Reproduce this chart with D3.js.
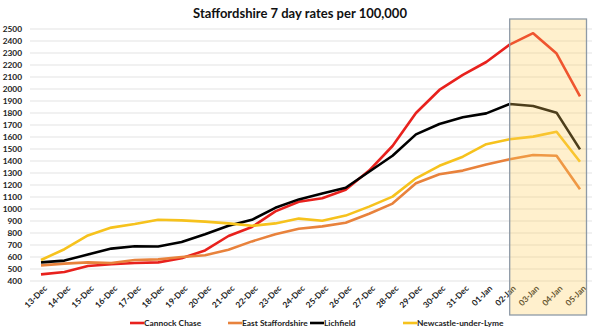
<!DOCTYPE html>
<html><head><meta charset="utf-8">
<script src="https://cdn.jsdelivr.net/npm/d3@7"></script>
<style>body{margin:0;background:#fff}svg{display:block}text{font-family:Lato,"Open Sans",sans-serif;font-weight:bold}</style>
</head><body>
<svg id="c" width="600" height="335"></svg>
<script>
const dates = ["13-Dec","14-Dec","15-Dec","16-Dec","17-Dec","18-Dec","19-Dec","20-Dec","21-Dec","22-Dec","23-Dec","24-Dec","25-Dec","26-Dec","27-Dec","28-Dec","29-Dec","30-Dec","31-Dec","01-Jan","02-Jan","03-Jan","04-Jan","05-Jan"];
const cannockChase = [455,475,525,540,550,555,590,655,775,850,980,1060,1090,1160,1320,1525,1800,1992,2117,2225,2370,2465,2295,1938];
const eastStaffordshire = [530,545,555,550,575,580,600,615,660,730,790,835,855,885,960,1045,1215,1290,1320,1370,1415,1450,1444,1164];
const lichfield = [555,570,620,670,690,688,725,790,860,910,1010,1080,1130,1177,1310,1444,1622,1708,1764,1797,1875,1858,1803,1497];
const newcastle = [575,665,780,845,875,910,905,895,880,860,880,920,902,945,1020,1103,1256,1360,1436,1540,1581,1603,1644,1394];
const yTicks = d3.range(400, 2501, 100);
const seriesNames = ["Cannock Chase","East Staffordshire","Lichfield","Newcastle-under-Lyme"];
const seriesColors = ["#e8211d","#e8823c","#000000","#f6c21d"];
const highlightDates = ["02-Jan","05-Jan"];

const series = [cannockChase, eastStaffordshire, lichfield, newcastle];
const svg = d3.select("#c");
const x = d3.scalePoint().domain(dates).range([41, 580]);
const y = d3.scaleLinear().domain([400, 2500]).range([281, 29]);

svg.append("text").attr("x", 300).attr("y", 18).attr("text-anchor", "middle")
  .attr("font-size", 13).attr("fill", "#111").text("Staffordshire 7 day rates per 100,000");

// grid
svg.append("g").selectAll("line").data(yTicks).join("line")
  .attr("x1", 30).attr("x2", 592).attr("y1", d => y(d)).attr("y2", d => y(d))
  .attr("stroke", "#e3e3e3").attr("stroke-width", 1);

// y axis
const ya = svg.append("g").attr("transform", "translate(22,0)")
  .call(d3.axisLeft(y).tickValues(yTicks).tickFormat(d3.format("d")).tickSize(0).tickPadding(0));
ya.select(".domain").remove();
ya.selectAll("text").attr("font-size", 8.3).attr("fill", "#222").style("font-family", "Lato,sans-serif").style("font-weight", "bold");

// x axis
const xa = svg.append("g").attr("transform", "translate(0,283)")
  .call(d3.axisBottom(x).tickSize(0).tickPadding(0));
xa.select(".domain").remove();
xa.selectAll("text").attr("font-size", 8.3).attr("fill", "#222")
  .style("font-family", "Lato,sans-serif").style("font-weight", "bold")
  .attr("text-anchor", "end").attr("dy", null).attr("y", 0)
  .attr("transform", "translate(6,6) rotate(-45)");

// lines
const line = d3.line().x((d, i) => x(dates[i])).y(d => y(d));
svg.append("g").selectAll("path").data(series).join("path")
  .attr("d", d => line(d)).attr("fill", "none")
  .attr("stroke", (d, i) => seriesColors[i]).attr("stroke-width", 2.6)
  .attr("stroke-linejoin", "round");

// highlight overlay
const hx0 = x(highlightDates[0]), hx1 = x(highlightDates[1]) + 6.5;
svg.append("rect").attr("x", hx0).attr("y", 19).attr("width", hx1 - hx0).attr("height", 296)
  .attr("fill", "rgb(255,205,90)").attr("fill-opacity", 0.3)
  .attr("stroke", "#8e9aa6").attr("stroke-width", 1.3);

// legend
const legX = [130, 228, 310, 403];
const lg = svg.append("g").selectAll("g").data(seriesNames).join("g")
  .attr("transform", (d, i) => `translate(${legX[i]},323)`);
lg.append("line").attr("x1", 0).attr("x2", 14).attr("y1", 0).attr("y2", 0)
  .attr("stroke", (d, i) => seriesColors[i]).attr("stroke-width", 2.6);
lg.append("text").attr("x", 14).attr("y", 3.2).attr("font-size", 8.4).attr("fill", "#222").text(d => d);
</script>
</body></html>
